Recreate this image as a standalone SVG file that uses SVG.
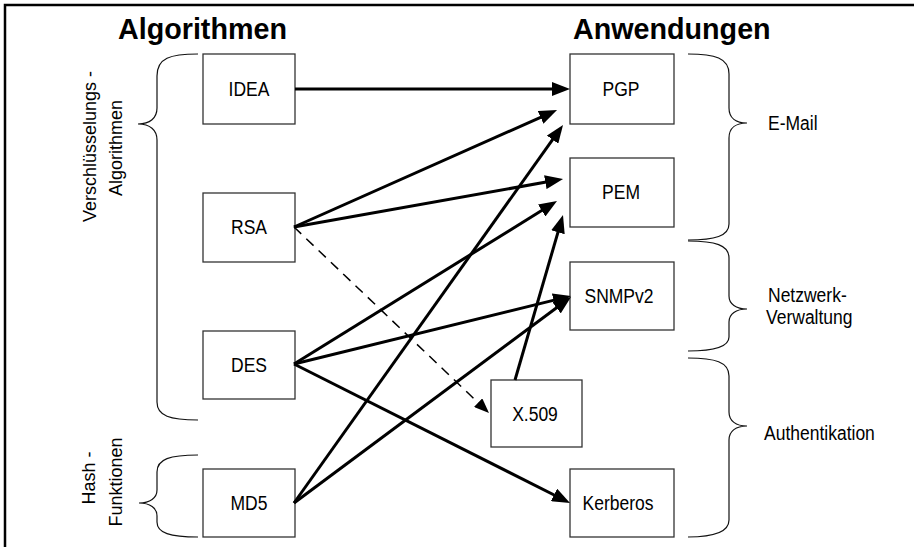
<svg xmlns="http://www.w3.org/2000/svg" width="914" height="547" viewBox="0 0 914 547">
  <defs>
    <style>
      .frame { fill: none; stroke: #000; stroke-width: 2.5; }
      .box { fill: #fff; stroke: #333; stroke-width: 1.3; }
      .brace { fill: none; stroke: #111; stroke-width: 1.2; }
      .label { font-family: "Liberation Sans", Arial, sans-serif; font-size: 20px; fill: #000; }
      .side { font-family: "Liberation Sans", Arial, sans-serif; font-size: 18px; fill: #000; }
      .mid { text-anchor: middle; }
      .title { font-family: "Liberation Sans", Arial, sans-serif; font-size: 28.7px; font-weight: bold; fill: #000; }
      .edge { fill: none; stroke: #000; stroke-width: 3; }
      .edge-dashed { fill: none; stroke: #000; stroke-width: 1.5; stroke-dasharray: 10 7; }
    </style>
    <marker id="arrow" markerUnits="userSpaceOnUse" markerWidth="18" markerHeight="14" viewBox="0 0 18 14" refX="8" refY="7" orient="auto">
      <path d="M0,0 L18,7 L0,14 z" fill="#000"/>
    </marker>
    <marker id="arrow-small" markerUnits="userSpaceOnUse" markerWidth="15" markerHeight="12" viewBox="0 0 15 12" refX="7" refY="6" orient="auto">
      <path d="M0,0 L15,6 L0,12 z" fill="#000"/>
    </marker>
  </defs>

  <rect width="914" height="547" fill="#fff"/>

  <!-- outer frame: top and left edges -->
  <path class="frame" d="M5,547 L5,5 L914,5"/>

  <!-- column headings -->
  <text class="title" x="118" y="39">Algorithmen</text>
  <text class="title" x="573" y="39">Anwendungen</text>

  <!-- left group braces and labels -->
  <g id="group-encryption">
    <path class="brace" d="M198,54 C170,54 157,58 157,76 L157,108 C157,118 150,124 138,124 C150,124 157,130 157,140 L157,402 C157,416 170,420 198,420"/>
    <text class="side" transform="translate(96,222) rotate(-90)">Verschlüsselungs -</text>
    <text class="side mid" transform="translate(122,148) rotate(-90)">Algorithmen</text>
  </g>
  <g id="group-hash">
    <path class="brace" d="M198,455 C170,455 157,459 157,472 L157,490 C157,498 150,503 139,503 C150,503 157,508 157,516 L157,522 C157,533 170,537 198,537"/>
    <text class="side mid" transform="translate(95,478) rotate(-90)">Hash -</text>
    <text class="side mid" transform="translate(122,482) rotate(-90)">Funktionen</text>
  </g>

  <!-- right group braces and labels -->
  <g id="group-email">
    <path class="brace" d="M688,54 C715,54 729,58 729,74 L729,108 C729,118 736,123 747,123 C736,123 729,128 729,138 L729,224 C729,236 715,240 688,240"/>
    <text class="label" transform="translate(768,130) scale(0.875,1)">E-Mail</text>
  </g>
  <g id="group-network">
    <path class="brace" d="M688,241 C715,241 729,245 729,258 L729,296 C729,304 736,309 747,309 C736,309 729,314 729,322 L729,337 C729,347 715,351 688,351"/>
    <text class="label" transform="translate(768,302) scale(0.875,1)">Netzwerk-</text>
    <text class="label" transform="translate(766,324) scale(0.875,1)">Verwaltung</text>
  </g>
  <g id="group-auth">
    <path class="brace" d="M688,358 C715,358 729,362 729,376 L729,412 C729,421 736,426 747,426 C736,426 729,431 729,440 L729,520 C729,532 715,537 688,537"/>
    <text class="label" transform="translate(764,440) scale(0.875,1)">Authentikation</text>
  </g>

  <!-- algorithm nodes -->
  <g id="node-idea">
    <rect class="box" x="203" y="54" width="92" height="70"/>
    <text class="label mid" transform="translate(249,96) scale(0.875,1)">IDEA</text>
  </g>
  <g id="node-rsa">
    <rect class="box" x="203" y="193" width="92" height="69"/>
    <text class="label mid" transform="translate(249,234) scale(0.875,1)">RSA</text>
  </g>
  <g id="node-des">
    <rect class="box" x="203" y="331" width="92" height="68"/>
    <text class="label mid" transform="translate(249,372) scale(0.875,1)">DES</text>
  </g>
  <g id="node-md5">
    <rect class="box" x="203" y="469" width="92" height="68"/>
    <text class="label mid" transform="translate(249,510) scale(0.875,1)">MD5</text>
  </g>

  <!-- application nodes -->
  <g id="node-pgp">
    <rect class="box" x="570" y="54" width="104" height="70"/>
    <text class="label mid" transform="translate(621,96) scale(0.875,1)">PGP</text>
  </g>
  <g id="node-pem">
    <rect class="box" x="570" y="158" width="104" height="69"/>
    <text class="label mid" transform="translate(621,199) scale(0.875,1)">PEM</text>
  </g>
  <g id="node-snmpv2">
    <rect class="box" x="570" y="262" width="104" height="68"/>
    <text class="label mid" transform="translate(619,303) scale(0.875,1)">SNMPv2</text>
  </g>
  <g id="node-x509">
    <rect class="box" x="491" y="380" width="91" height="67"/>
    <text class="label mid" transform="translate(535,421) scale(0.875,1)">X.509</text>
  </g>
  <g id="node-kerberos">
    <rect class="box" x="570" y="469" width="104" height="68"/>
    <text class="label mid" transform="translate(618,510) scale(0.875,1)">Kerberos</text>
  </g>

  <!-- connectors -->
  <g id="connectors">
    <line class="edge" x1="295" y1="89" x2="560" y2="89" marker-end="url(#arrow)"/>
    <line class="edge" x1="294" y1="227" x2="547.9" y2="114.1" marker-end="url(#arrow)"/>
    <line class="edge" x1="294" y1="227" x2="553.2" y2="180.8" marker-end="url(#arrow)"/>
    <line class="edge" x1="294" y1="364" x2="548.5" y2="206.3" marker-end="url(#arrow)"/>
    <line class="edge" x1="294" y1="364" x2="561.3" y2="298.4" marker-end="url(#arrow)"/>
    <line class="edge" x1="294" y1="364" x2="561.1" y2="498.5" marker-end="url(#arrow)"/>
    <line class="edge" x1="294" y1="503" x2="557.2" y2="133.1" marker-end="url(#arrow)"/>
    <line class="edge" x1="294" y1="503" x2="563.0" y2="303.0" marker-end="url(#arrow)"/>
    <line class="edge" x1="515" y1="380" x2="560.2" y2="224.6" marker-end="url(#arrow)"/>
    <line class="edge-dashed" x1="294" y1="227" x2="483.2" y2="407.5" marker-end="url(#arrow-small)"/>
  </g>
</svg>
